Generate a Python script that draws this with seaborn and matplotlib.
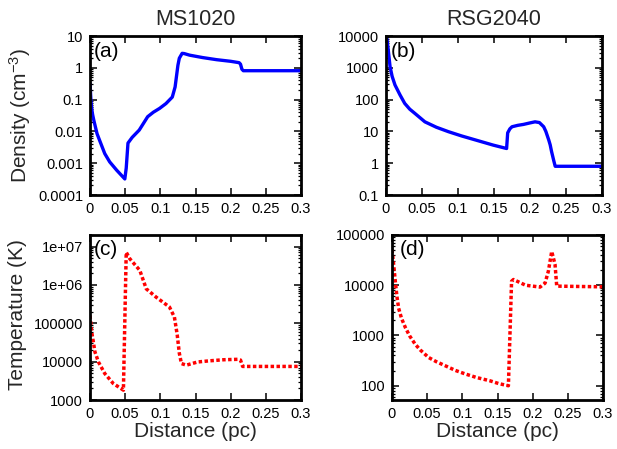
import matplotlib
matplotlib.use("Agg")
import matplotlib.pyplot as plt
import seaborn as sns
from matplotlib.ticker import LogLocator, NullFormatter

# ---------------- data ----------------
titles = ["MS1020", "RSG2040"]
panel_labels = ["(a)", "(b)", "(c)", "(d)"]
xlabel = "Distance (pc)"
ylabels = ["Density (cm$^{-3}$)", "Temperature (K)"]

x_ticks = [0, 0.05, 0.1, 0.15, 0.2, 0.25, 0.3]
x_ticklabels = ["0", "0.05", "0.1", "0.15", "0.2", "0.25", "0.3"]

# (a) density MS1020
dens_ms_x = [0, 0.0007, 0.0014, 0.0025, 0.0038, 0.0055, 0.007, 0.01, 0.014, 0.021,
             0.028, 0.038, 0.0495, 0.0515, 0.054, 0.06, 0.07, 0.082, 0.09, 0.099,
             0.108, 0.117, 0.121, 0.1225, 0.125, 0.127, 0.131, 0.134, 0.1415, 0.16,
             0.18, 0.2, 0.212, 0.214, 0.216, 0.218, 0.25, 0.3]
dens_ms_y = [0.32, 0.17, 0.086, 0.05, 0.033, 0.022, 0.016, 0.0085, 0.005, 0.002,
             0.0011, 0.0006, 0.00032, 0.0007, 0.0043, 0.0065, 0.011, 0.029, 0.04, 0.053,
             0.075, 0.12, 0.25, 0.45, 1.2, 2.0, 2.85, 2.8, 2.5, 2.1,
             1.8, 1.6, 1.45, 1.3, 0.9, 0.81, 0.81, 0.81]
dens_ms_ticks = [0.0001, 0.001, 0.01, 0.1, 1, 10]
dens_ms_ticklabels = ["0.0001", "0.001", "0.01", "0.1", "1", "10"]

# (b) density RSG2040
dens_rsg_x = [0, 0.001, 0.0032, 0.0056, 0.0085, 0.0125, 0.0195, 0.026, 0.033, 0.04,
              0.054, 0.07, 0.0867, 0.105, 0.124, 0.149, 0.1675, 0.169, 0.172, 0.175,
              0.183, 0.191, 0.2, 0.207, 0.213, 0.219, 0.222, 0.226, 0.228, 0.230,
              0.233, 0.235, 0.3]
dens_rsg_y = [14000, 9000, 3500, 1100, 540, 288, 140, 76, 50, 37,
              20, 13.5, 9.8, 7.2, 5.4, 3.7, 2.9, 9, 12, 14,
              15.5, 16.6, 18.5, 20, 19, 14, 10, 5.4, 3.8, 2.3,
              1.2, 0.8, 0.8]
dens_rsg_ticks = [0.1, 1, 10, 100, 1000, 10000]
dens_rsg_ticklabels = ["0.1", "1", "10", "100", "1000", "10000"]

# (c) temperature MS1020
temp_ms_x = [0, 0.0024, 0.0047, 0.007, 0.012, 0.021, 0.033, 0.045, 0.0475, 0.0515,
             0.0566, 0.0708, 0.080, 0.094, 0.113, 0.12, 0.124, 0.127, 0.13, 0.137,
             0.153, 0.17, 0.19, 0.21, 0.214, 0.217, 0.3]
temp_ms_y = [1.6e5, 5.9e4, 3.3e4, 1.8e4, 9.8e3, 4.9e3, 2.7e3, 1.94e3, 1.8e3, 7.1e6,
             4.8e6, 2.4e6, 7.9e5, 4.8e5, 2.65e5, 1.45e5, 5e4, 1.66e4, 8.9e3, 8.1e3,
             9.8e3, 1.05e4, 1.12e4, 1.15e4, 1.1e4, 7.5e3, 7.5e3]
temp_ms_ticks = [1e3, 1e4, 1e5, 1e6, 1e7]
temp_ms_ticklabels = ["1000", "10000", "100000", "1e+06", "1e+07"]

# (d) temperature RSG2040
temp_rsg_x = [0, 0.0023, 0.0047, 0.007, 0.0094, 0.0135, 0.019, 0.025, 0.033, 0.04,
              0.052, 0.063, 0.0757, 0.09, 0.104, 0.12, 0.1396, 0.152, 0.1655, 0.170,
              0.1727, 0.19, 0.2105, 0.2176, 0.2223, 0.2271, 0.2318, 0.2342, 0.3]
temp_rsg_y = [5.1e4, 2.6e4, 1.2e4, 6000, 3500, 2200, 1440, 985, 670, 518,
              365, 301, 250, 202, 172, 146, 125, 110, 100, 1.2e4,
              1.3e4, 1.0e4, 9.2e3, 1.1e4, 1.9e4, 4.7e4, 2.6e4, 9.6e3, 9.3e3]
temp_rsg_ticks = [100, 1000, 10000, 100000]
temp_rsg_ticklabels = ["100", "1000", "10000", "100000"]

# ---------------- style ----------------
sns.set_style("ticks")
plt.rcParams["font.family"] = ["Liberation Sans", "DejaVu Sans"]
plt.rcParams["mathtext.fontset"] = "custom"
plt.rcParams["mathtext.rm"] = "Liberation Sans"
plt.rcParams["mathtext.it"] = "Liberation Sans:italic"

fig = plt.figure(figsize=(6.17, 4.49), dpi=100)
W, H = 617, 449

def axes_px(left, top, right, bottom):
    return fig.add_axes([left / W, 1 - bottom / H, (right - left) / W, (bottom - top) / H])

ax_a = axes_px(90, 36, 301, 195)
ax_b = axes_px(386, 36, 602, 195)
ax_c = axes_px(90, 235, 301, 400)
ax_d = axes_px(392, 235, 603, 400)

BLUE = "#0000ff"
RED = "#ff0000"

specs = [
    (ax_a, dens_ms_x, dens_ms_y, BLUE, "solid", (0.0001, 10), dens_ms_ticks, dens_ms_ticklabels),
    (ax_b, dens_rsg_x, dens_rsg_y, BLUE, "solid", (0.1, 10000), dens_rsg_ticks, dens_rsg_ticklabels),
    (ax_c, temp_ms_x, temp_ms_y, RED, "dotted", (1000, 2e7), temp_ms_ticks, temp_ms_ticklabels),
    (ax_d, temp_rsg_x, temp_rsg_y, RED, "dotted", (52, 1e5), temp_rsg_ticks, temp_rsg_ticklabels),
]

label_pos = [(0.016, 0.962), (0.022, 0.965), (0.016, 0.972), (0.038, 0.967)]

for i, (ax, xs, ys, col, style, ylim, yt, ytl) in enumerate(specs):
    if style == "solid":
        sns.lineplot(x=xs, y=ys, ax=ax, color=col, lw=2.4, estimator=None, sort=False)
    else:
        sns.lineplot(x=xs, y=ys, ax=ax, color=col, lw=2.5, estimator=None, sort=False)
        for ln in ax.get_lines():
            ln.set_linestyle((0, (1, 0.7)))
    for ln in ax.get_lines():
        ln.set_solid_joinstyle("round")
        ln.set_dash_joinstyle("round")
    ax.set_yscale("log")
    ax.set_xlim(0, 0.3)
    ax.set_ylim(*ylim)
    ax.set_xticks(x_ticks, x_ticklabels)
    ax.set_yticks(yt, ytl)
    ax.yaxis.set_minor_locator(LogLocator(base=10, subs=range(2, 10), numticks=20))
    ax.yaxis.set_minor_formatter(NullFormatter())
    ax.tick_params(which="both", direction="in", top=True, right=True,
                   labelsize=10.5, pad=5, color="black", labelcolor="black")
    ax.tick_params(which="major", length=5, width=1.1)
    ax.tick_params(which="minor", length=2.5, width=0.9)
    for sp in ax.spines.values():
        sp.set_linewidth(2.0)
        sp.set_color("black")
        sp.set_visible(True)
    ax.text(label_pos[i][0], label_pos[i][1], panel_labels[i], transform=ax.transAxes,
            ha="left", va="top", fontsize=15, color="black")

ax_a.set_title(titles[0], fontsize=15.5, pad=8)
ax_b.set_title(titles[1], fontsize=15.5, pad=8)

ax_a.set_ylabel(ylabels[0], fontsize=15, va="center")
ax_a.yaxis.set_label_coords(-0.332, 0.5)
ax_c.set_ylabel(ylabels[1], fontsize=15, va="center")
ax_c.yaxis.set_label_coords(-0.345, 0.52)

ax_c.set_xlabel(xlabel, fontsize=15, labelpad=1)
ax_d.set_xlabel(xlabel, fontsize=15, labelpad=1)

fig.savefig("out.png", dpi=100, facecolor="white")
